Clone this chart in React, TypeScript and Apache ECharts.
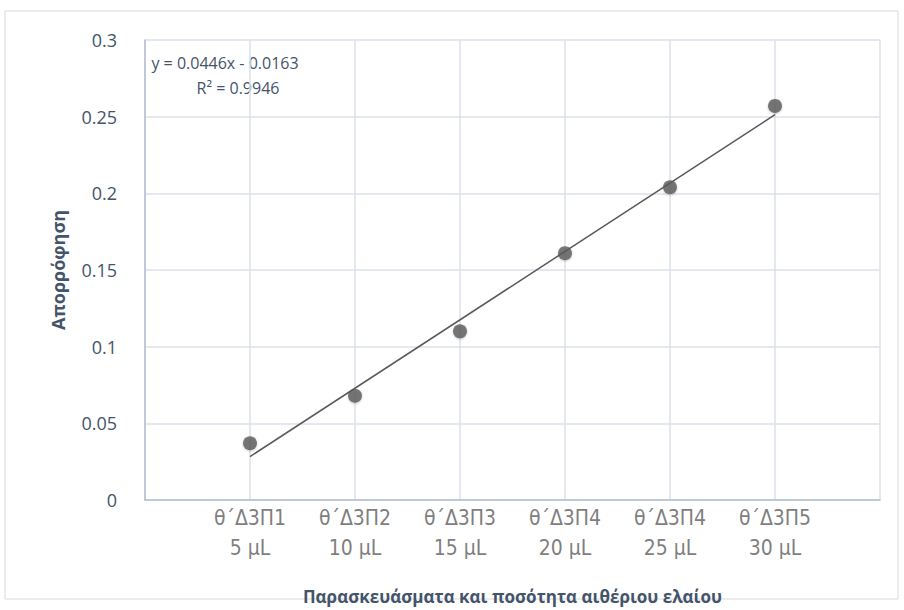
import React, { useEffect, useRef } from "react";
import * as echarts from "echarts";

// Samples and the essential-oil volume added to each
const sampleCodes = ["θ΄Δ3Π1", "θ΄Δ3Π2", "θ΄Δ3Π3", "θ΄Δ3Π4", "θ΄Δ3Π4", "θ΄Δ3Π5"];
const volumes = ["5 μL", "10 μL", "15 μL", "20 μL", "25 μL", "30 μL"];
// Measured absorbance per sample
const absorbance = [0.037, 0.068, 0.11, 0.161, 0.204, 0.257];
// Linear trendline fitted to the measurements
const slope = 0.0446;
const intercept = -0.0163;
const rSquared = 0.9946;
// Y axis ticks
const yTicks = [0, 0.05, 0.1, 0.15, 0.2, 0.25, 0.3];

const FONT = "'Open Sans', 'Noto Sans', sans-serif";
const LABEL_FONT = "'DejaVu Sans Condensed', 'DejaVu Sans', sans-serif";

export default function App() {
  const ref = useRef<HTMLDivElement>(null);

  useEffect(() => {
    if (!ref.current) return;
    const chart = echarts.init(ref.current, null, { renderer: "svg" });

    const points = absorbance.map((v, i) => [i + 1, v]);
    const xStart = 1;
    const xEnd = absorbance.length;
    const trend = [
      [xStart, slope * xStart + intercept],
      [xEnd, slope * xEnd + intercept],
    ];
    const eqText = `y = ${slope}x ${intercept < 0 ? "-" : "+"} ${Math.abs(intercept)}`;
    const r2Text = `R² = ${rSquared}`;

    chart.setOption({
      animation: false,
      backgroundColor: "#ffffff",
      textStyle: { fontFamily: FONT },
      grid: { left: 145, right: 24, top: 40, bottom: 102 },
      xAxis: {
        type: "value",
        min: 0,
        max: sampleCodes.length + 1,
        interval: 1,
        name: "Παρασκευάσματα και ποσότητα αιθέριου ελαίου",
        nameLocation: "middle",
        nameGap: 88,
        nameTextStyle: { fontSize: 17, fontWeight: "bold", color: "#44546A", fontFamily: FONT },
        axisLine: { show: true, lineStyle: { color: "#B4BFD0", width: 1.5 } },
        axisTick: { show: false },
        splitLine: { show: true, lineStyle: { color: "#DDE1E8", width: 1.5 } },
        axisLabel: {
          margin: 3,
          fontSize: 21,
          lineHeight: 30,
          color: "#7F7F7F",
          fontFamily: LABEL_FONT,
          formatter: (v: number) => {
            const i = Math.round(v) - 1;
            if (i < 0 || i >= sampleCodes.length) return "";
            return `${sampleCodes[i]}\n${volumes[i]}`;
          },
        },
      },
      yAxis: {
        type: "value",
        min: yTicks[0],
        max: yTicks[yTicks.length - 1],
        interval: 0.05,
        name: "Απορρόφηση",
        nameLocation: "middle",
        nameGap: 78,
        nameTextStyle: { fontSize: 18, fontWeight: "bold", color: "#44546A", fontFamily: FONT },
        axisLine: { show: true, lineStyle: { color: "#B4BFD0", width: 1.5 } },
        axisTick: { show: false },
        splitLine: { show: true, lineStyle: { color: "#DDE1E8", width: 1.5 } },
        axisLabel: {
          margin: 28,
          fontSize: 18,
          color: "#44546A",
          fontFamily: FONT,
          formatter: (v: number) => String(Math.round(v * 100) / 100),
        },
      },
      series: [
        {
          type: "line",
          data: trend,
          showSymbol: false,
          symbol: "none",
          lineStyle: { color: "#595959", width: 1.5 },
          z: 2,
        },
        {
          type: "scatter",
          data: points,
          symbol: "circle",
          symbolSize: 14,
          itemStyle: {
            color: "#5A5A5A",
            shadowColor: "rgba(0,0,0,0.25)",
            shadowBlur: 2,
            shadowOffsetY: 1,
          },
          z: 3,
        },
      ],
      graphic: [
        {
          type: "rect",
          shape: { x: 5, y: 11, width: 893, height: 588 },
          style: { fill: "none", stroke: "#D9D9D9", lineWidth: 1 },
          silent: true,
        },
        {
          type: "text",
          x: 225,
          y: 63,
          style: {
            text: eqText,
            fontSize: 16,
            fontFamily: FONT,
            fill: "#44546A",
            align: "center",
            verticalAlign: "middle",
          },
        },
        {
          type: "text",
          x: 238,
          y: 88,
          style: {
            text: r2Text,
            fontSize: 16,
            fontFamily: FONT,
            fill: "#44546A",
            align: "center",
            verticalAlign: "middle",
          },
        },
      ],
    });

    return () => chart.dispose();
  }, []);

  return (
    <div
      ref={ref}
      style={{ position: "fixed", left: 0, top: 0, width: 904, height: 610 }}
    />
  );
}
